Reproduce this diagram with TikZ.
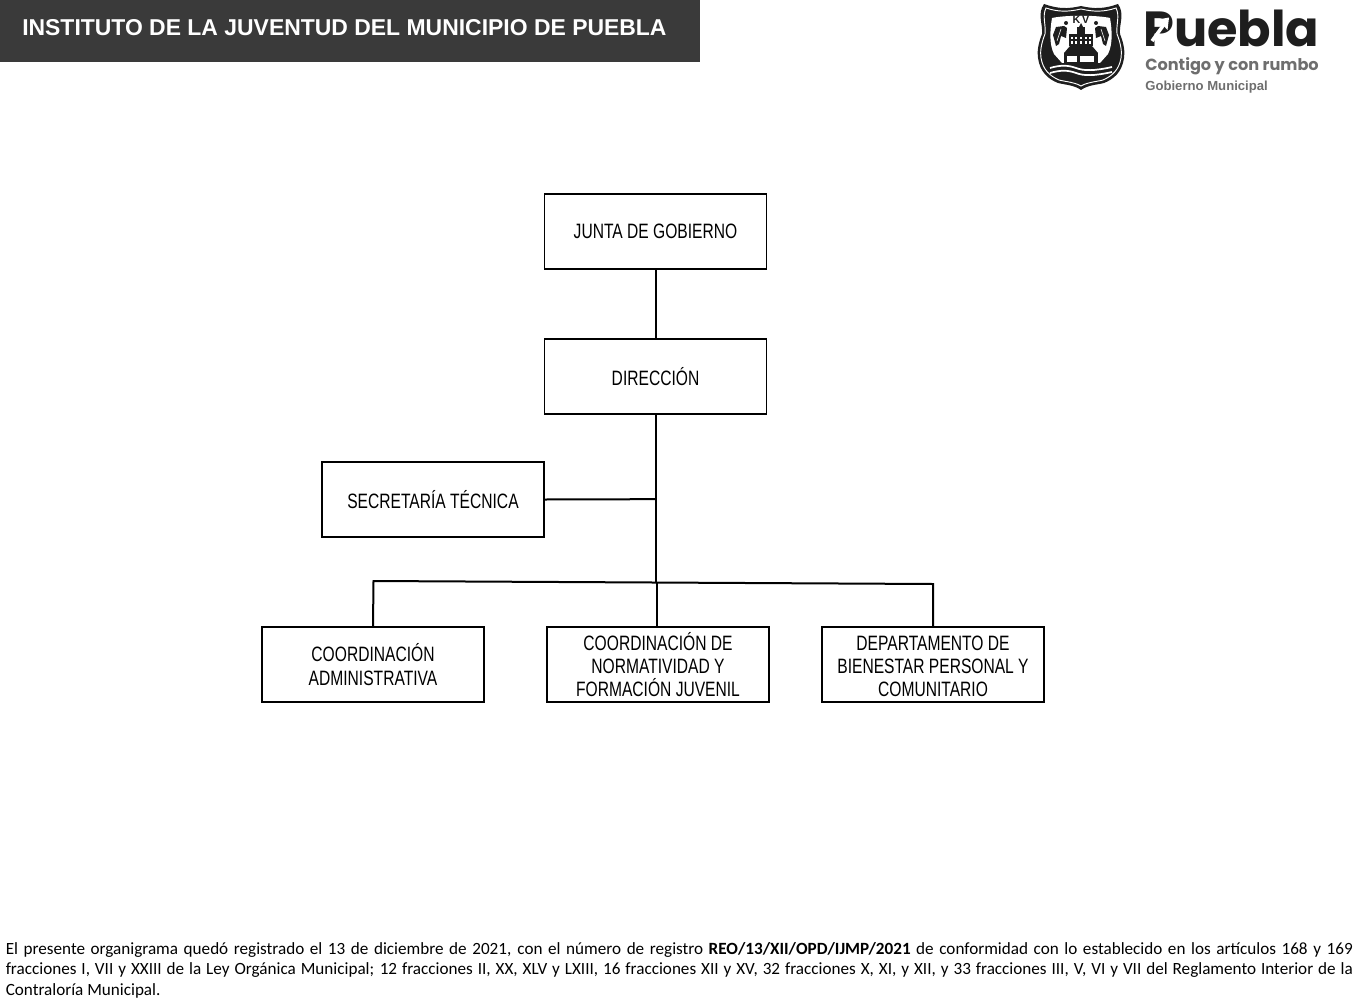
\documentclass[tikz,border=0pt]{standalone}
\usepackage{fontspec}
\setmainfont{Liberation Sans}
\newfontfamily\boxfont[FakeStretch=0.75]{Liberation Sans}
\newfontfamily\notefont{Carlito}
\newfontfamily\logofont{Poppins}
\usetikzlibrary{calc}
\definecolor{bandgray}{HTML}{3A3A3A}
\definecolor{logogray}{HTML}{6E6E6E}
\definecolor{logoblack}{HTML}{1E1E1E}
\tikzset{
    orgbox/.style={draw=black, line width=1.1pt, minimum width=166.6pt, minimum height=56.3pt,
        inner sep=0pt, align=center, font=\boxfont\fontsize{15.6}{17}\selectfont},
    orgline/.style={line width=1.5pt},
    crestline/.style={white, line width=0.7pt}
}

\begin{document}
\begin{tikzpicture}[x=0.75pt,y=-0.75pt]
    \useasboundingbox (0,0) rectangle (1358,1002);

    % Header band
    \fill[bandgray] (0,0) rectangle (700,62);
    \node[anchor=west, inner sep=0pt, text=white, font=\bfseries\fontsize{17.2}{20}\selectfont] (title) at (22,28)
        {INSTITUTO DE LA JUVENTUD DEL MUNICIPIO DE PUEBLA};

    % Crest
    \fill[logoblack] (1044,4) .. controls (1058,9) and (1068,9) .. (1081,6)
        .. controls (1094,9) and (1104,9) .. (1118,4)
        .. controls (1125,14) and (1119,24) .. (1120,34)
        .. controls (1124,44) and (1125,52) .. (1124,58)
        .. controls (1122,72) and (1114,79) .. (1104,83)
        .. controls (1096,85) and (1088,85) .. (1081,90)
        .. controls (1074,85) and (1066,85) .. (1058,83)
        .. controls (1048,79) and (1040,72) .. (1038,58)
        .. controls (1037,52) and (1038,44) .. (1042,34)
        .. controls (1043,24) and (1037,14) .. (1044,4) -- cycle;
    \draw[crestline] (1046,8) .. controls (1058,12) and (1068,12) .. (1081,9)
        .. controls (1094,12) and (1104,12) .. (1116,8)
        .. controls (1120,16) and (1116,24) .. (1117,34)
        .. controls (1121,44) and (1122,52) .. (1121,58)
        .. controls (1119,70) and (1112,76) .. (1103,80)
        .. controls (1095,82) and (1088,82) .. (1081,86)
        .. controls (1074,82) and (1067,82) .. (1059,80)
        .. controls (1050,76) and (1043,70) .. (1041,58)
        .. controls (1040,52) and (1041,44) .. (1045,34)
        .. controls (1046,24) and (1042,16) .. (1046,8) -- cycle;
    % Crest field
    \fill[white] (1052,18) .. controls (1065,15) and (1097,15) .. (1110,18)
        .. controls (1112,30) and (1113,44) .. (1108,54)
        -- (1100,63) -- (1062,63) -- (1054,54)
        .. controls (1049,44) and (1050,30) .. (1052,18) -- cycle;
    \node[inner sep=0pt, text=logoblack, font=\bfseries\fontsize{8}{9}\selectfont] (crestkv) at (1081,20) {K\,V};
    % Angels
    \foreach \s in {-1,1}
    {
        \fill[logoblack] (1081+\s*15,23) circle (2);
        \fill[logoblack] (1081+\s*17,26) -- (1081+\s*25,27) -- (1081+\s*28,35) -- (1081+\s*25,46)
            -- (1081+\s*22,44) -- (1081+\s*20,36) -- (1081+\s*15,38) -- (1081+\s*14,28) -- cycle;
        \draw[white, line width=0.4pt] (1081+\s*20,29) -- (1081+\s*24,41);
    }
    % Cathedral
    \fill[logoblack] (1069,34) rectangle (1093,46);
    \fill[logoblack] (1077,34) rectangle (1085,27);
    \fill[logoblack] (1079,27) -- (1081,23) -- (1083,27) -- cycle;
    \foreach \x in {1072,1076,1081,1086,1090}
    {
        \fill[white] (\x-1,37) rectangle (\x+1,39);
        \fill[white] (\x-1,41) rectangle (\x+1,44);
    }
    \fill[logoblack] (1070,46) -- (1092,46) -- (1098,53) -- (1064,53) -- cycle;
    \fill[logoblack] (1064,53) rectangle (1098,63);
    \fill[white] (1067,56) rectangle (1077,62);
    \fill[white] (1080,56) rectangle (1094,62);
    % Water
    \foreach \y in {68,73}
    {
        \draw[white, line width=1.3pt] (1050,\y) .. controls (1060,\y-3) and (1068,\y-3) .. (1076,\y)
            .. controls (1084,\y+3) and (1094,\y+3) .. (1112,\y-1);
    }

    % Logo text
    \node[anchor=base west, inner sep=0pt, text=logoblack, font=\logofont\bfseries\fontsize{37}{40}\selectfont] (logoname) at (1143,47) {Puebla};
    \draw[white, line width=2.6pt] (1152,41) -- (1165,23);
    \fill[white] (1158,19.5) -- (1169,17.5) -- (1167.5,30) -- cycle;
    \node[anchor=base west, inner sep=0pt, text=logogray, font=\logofont\bfseries\fontsize{12.1}{14}\selectfont] (logomotto) at (1145,70.5) {Contigo y con rumbo};
    \node[anchor=base west, inner sep=0pt, text=logogray, font=\bfseries\fontsize{9.85}{12}\selectfont] (logogov) at (1145,91) {Gobierno Municipal};

    % Boxes
    \node[orgbox] (junta) at (655.5,231.5) {JUNTA DE GOBIERNO};
    \node[orgbox] (direccion) at (655.5,376.5) {DIRECCIÓN};
    \node[orgbox] (secretaria) at (433,499.5) {SECRETARÍA TÉCNICA};
    \node[orgbox] (admin) at (373,664.5) {COORDINACIÓN\\[1pt]ADMINISTRATIVA};
    \node[orgbox] (norma) at (658,664.5) {COORDINACIÓN DE\\NORMATIVIDAD Y\\FORMACIÓN JUVENIL};
    \node[orgbox] (bienestar) at (933,664.5) {\vphantom{Ó}DEPARTAMENTO DE\\BIENESTAR PERSONAL Y\\COMUNITARIO};

    % Bus points
    \coordinate (trunkend) at (656,582.5);
    \coordinate (busleft) at (373.5,581);
    \coordinate (busmid) at (657,582.5);
    \coordinate (busright) at (933,584);

    % Connectors
    \draw[orgline] (junta) -- (direccion);
    \draw[orgline] (direccion.south) ++(0.5,0) -- (trunkend);
    \draw[orgline] (secretaria.east) -- ($(direccion.south)!(secretaria.east)!(trunkend)$);
    \draw[orgline, line cap=round] (admin.north) -- (busleft) -- (busright) -- (bienestar.north);
    \draw[orgline] (busmid) -- (busmid |- norma.north);

    % Footnote
    \node[anchor=north west, inner sep=0pt, text width=1347*0.75pt, align=justify,
        font=\notefont\fontsize{12.85}{15.35}\selectfont] (note) at (5.5,942)
        {\parfillskip=0pt plus 1fil
        El presente organigrama quedó registrado el 13 de diciembre de 2021, con el número de registro \textbf{REO/13/XII/OPD/IJMP/2021} de conformidad con lo establecido en los artículos 168 y 169\linebreak
        fracciones I, VII y XXIII de la Ley Orgánica Municipal; 12 fracciones II, XX, XLV y LXIII, 16 fracciones XII y XV, 32 fracciones X, XI, y XII, y 33 fracciones III, V, VI y VII del Reglamento Interior de la\linebreak
        Contraloría Municipal.};
\end{tikzpicture}
\end{document}
